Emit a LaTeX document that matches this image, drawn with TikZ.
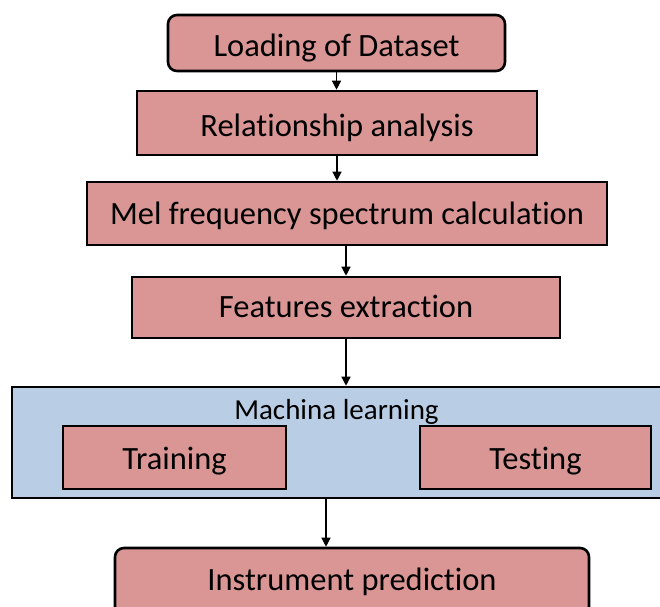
\documentclass[tikz,border=0pt]{standalone}
\usepackage{fontspec}
\setmainfont[Ligatures=NoCommon]{Carlito}
\usetikzlibrary{arrows.meta}
\definecolor{boxpink}{HTML}{D99694}
\definecolor{boxblue}{HTML}{B9CDE5}
\begin{document}
\begin{tikzpicture}[x=1pt,y=-1pt,
  stepbox/.style={draw=black, line width=2.6pt, fill=boxpink, inner sep=0pt,
    font=\fontsize{32.5}{38}\selectfont, text height=22pt, text depth=0pt},
  roundbox/.style={stepbox, rounded corners=9pt},
  groupbox/.style={draw=black, line width=2.6pt, fill=boxblue, inner sep=0pt},
  flow/.style={line width=1.3pt, -{Triangle[length=9pt,width=9pt]}}]
\useasboundingbox (0,0) rectangle (660,606);
\clip (0,0) rectangle (660,606);

% main pipeline
\node[roundbox, text height=27pt, minimum width=337pt, minimum height=56pt] (load) at (336.5,43) {Loading of Dataset};
\node[stepbox, text height=27pt, minimum width=400pt, minimum height=64pt] (rel) at (337,123) {Relationship analysis};
\node[stepbox, minimum width=520pt, minimum height=63pt] (mel) at (347,213.5) {Mel frequency spectrum calculation};
\node[stepbox, text height=20pt, minimum width=428pt, minimum height=61pt] (feat) at (346,307.5) {Features extraction};

% learning stage with its two parts
\node[groupbox, minimum width=658pt, minimum height=111pt] (ml) at (341,442.5) {};
\node[font=\fontsize{29}{34}\selectfont, inner sep=0pt] (mltitle) at (336.5,412) {Machina learning};
\node[stepbox, text height=23pt, minimum width=223pt, minimum height=63pt] (train) at (174.5,457.5) {Training};
\node[stepbox, text height=23pt, minimum width=231pt, minimum height=63pt] (test) at (535.5,457.5) {Testing};

\node[roundbox, text height=17pt, minimum width=474pt, minimum height=68pt] (pred) at (352,582) {Instrument prediction};

% connectors
\coordinate (drop) at (326,0);
\draw[flow] (load.south) -- (load.south |- rel.north);
\draw[flow] (rel.south) -- (rel.south |- mel.north);
\draw[flow] (mel.south -| feat.north) -- (feat.north);
\draw[flow] (feat.south) -- (feat.south |- ml.north);
\draw[flow] (ml.south -| drop) -- (pred.north -| drop);
\end{tikzpicture}
\end{document}
